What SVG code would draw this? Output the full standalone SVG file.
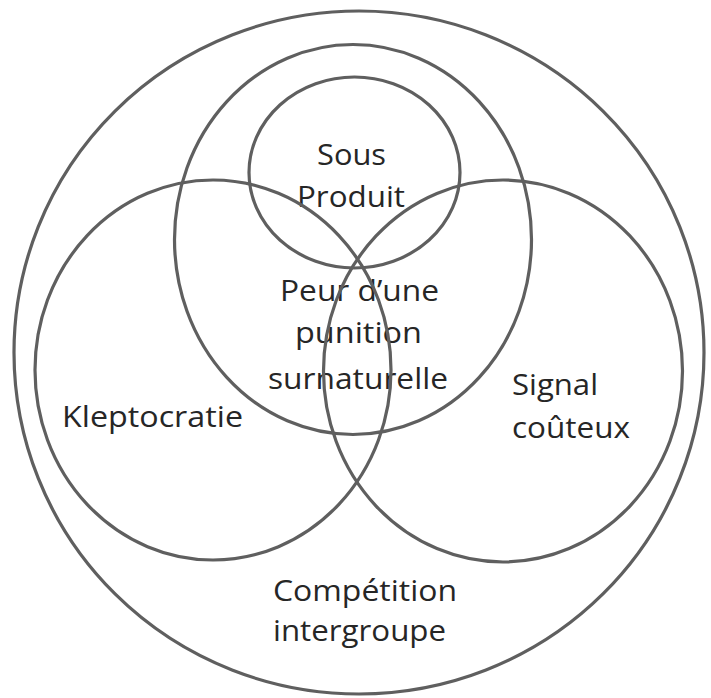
<svg xmlns="http://www.w3.org/2000/svg" width="711" height="698" viewBox="0 0 711 698">
<style>
.set{fill:none;stroke:#5f5f5f;stroke-width:3.2}
.lbl{font-family:"Open Sans","Liberation Sans",sans-serif;font-size:29px;fill:#262626}
.c{text-anchor:middle}
</style>
<rect width="711" height="698" fill="#ffffff"/>
<g id="competition">
<ellipse class="set" cx="359" cy="352.5" rx="345" ry="341.5"/>
<text class="lbl" x="273" y="601" textLength="184" lengthAdjust="spacingAndGlyphs">Compétition</text>
<text class="lbl" x="273" y="641" textLength="173" lengthAdjust="spacingAndGlyphs">intergroupe</text>
</g>
<g id="peur">
<ellipse class="set" cx="353" cy="239.5" rx="178.5" ry="195"/>
<text class="lbl" x="280" y="301" textLength="159" lengthAdjust="spacingAndGlyphs">Peur d’une</text>
<text class="lbl" x="295" y="343" textLength="127" lengthAdjust="spacingAndGlyphs">punition</text>
<text class="lbl" x="268" y="389" textLength="180" lengthAdjust="spacingAndGlyphs">surnaturelle</text>
</g>
<g id="sousproduit">
<ellipse class="set" cx="354.5" cy="172.5" rx="105.5" ry="95.5"/>
<text class="lbl" x="317" y="165" textLength="69" lengthAdjust="spacingAndGlyphs">Sous</text>
<text class="lbl" x="297" y="207" textLength="108" lengthAdjust="spacingAndGlyphs">Produit</text>
</g>
<g id="kleptocratie">
<ellipse class="set" cx="213" cy="370" rx="178" ry="190"/>
<text class="lbl" x="62" y="427" textLength="181" lengthAdjust="spacingAndGlyphs">Kleptocratie</text>
</g>
<g id="signal">
<ellipse class="set" cx="503" cy="371" rx="179.5" ry="191"/>
<text class="lbl" x="512" y="395" textLength="86" lengthAdjust="spacingAndGlyphs">Signal</text>
<text class="lbl" x="512" y="438" textLength="118" lengthAdjust="spacingAndGlyphs">coûteux</text>
</g>
<g id="connectors"></g>
</svg>
